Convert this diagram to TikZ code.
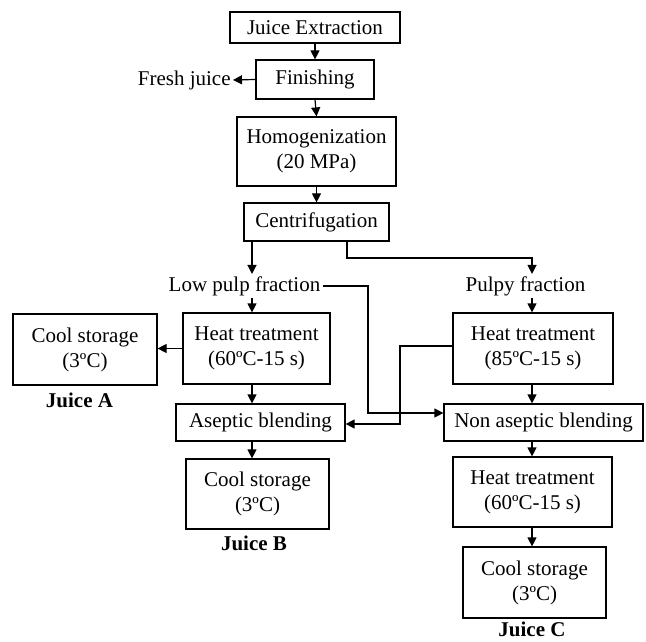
\documentclass[tikz,border=0pt]{standalone}
\usepackage{fontspec}
\setmainfont{Liberation Serif}
\usetikzlibrary{arrows.meta, calc}

\begin{document}
\begin{tikzpicture}[
  x=0.5pt, y=-0.5pt,
  every node/.style={font=\fontsize{10.5}{12.5}\selectfont},
  boxstep/.style={draw, line width=0.6pt, align=center, inner sep=0pt},
  tag/.style={font=\fontsize{10.5}{12.5}\selectfont\bfseries},
  arrow/.style={-{Triangle[length=4.5pt, width=4.5pt]}, line width=0.6pt},
]
\useasboundingbox (0,0) rectangle (646,641);

% Main line: extraction to centrifugation
\node[boxstep, minimum width=85pt, minimum height=15.5pt] (extract) at (315,27.5) {Juice Extraction};
\node[boxstep, minimum width=59pt, minimum height=19.5pt] (finish) at (315,79.5) {Finishing};
\node[anchor=east, inner sep=1pt] (fresh) at (233,80) {Fresh juice};
\node[boxstep, minimum width=79.5pt, minimum height=34.5pt] (homog) at (316.5,151.5) {Homogenization\\(20 MPa)};
\node[boxstep, minimum width=72.5pt, minimum height=19pt] (centri) at (316.5,222) {Centrifugation};

\draw[arrow] (extract.south) -- (finish.north);
\draw[arrow] (finish.west) -- (fresh.east);
\draw[arrow] (finish.south) -- (homog.north);
\draw[arrow] (homog.south) -- (centri.north);

% The two fractions
\coordinate (lp) at (252,0);
\coordinate (pp) at (532,0);
\coordinate (split) at (347,258);
\node[inner sep=1pt] (lowpulp) at (244.5,286) {Low pulp fraction};
\node[inner sep=1pt] (pulpy) at (525.5,286) {Pulpy fraction};

\draw[arrow] (centri.south -| lp) -- (lowpulp.north -| lp);
\draw[arrow] (centri.south -| split) -- (split) -| (pulpy.north -| pp);

% Low pulp branch
\node[boxstep, minimum width=73.5pt, minimum height=35.5pt] (heatL) at (256.5,348.5) {Heat treatment\\(60ºC-15 s)};
\node[boxstep, minimum width=72pt, minimum height=35.5pt] (coolA) at (85,349.5) {Cool storage\\(3ºC)};
\node[tag] (juiceA) at (79.5,400) {Juice A};
\node[boxstep, minimum width=84.5pt, minimum height=18.5pt] (asepL) at (260.5,422.5) {Aseptic blending};
\node[boxstep, minimum width=71.5pt, minimum height=35pt] (coolB) at (257.5,494) {Cool storage\\(3ºC)};
\node[tag] (juiceB) at (254,543) {Juice B};

\draw[arrow] (lowpulp.south -| lp) -- (heatL.north -| lp);
\draw[arrow] (heatL.west) -- (coolA.east |- heatL.west);
\draw[arrow] (heatL.south -| lp) -- (asepL.north -| lp);
\draw[arrow] (asepL.south -| lp) -- (coolB.north -| lp);

% Pulpy branch
\node[boxstep, minimum width=80pt, minimum height=35.5pt] (heatH) at (533,348.5) {Heat treatment\\(85ºC-15 s)};
\node[boxstep, minimum width=99.5pt, minimum height=18.5pt] (nonasep) at (543.5,422.5) {Non aseptic blending};
\node[boxstep, minimum width=79.5pt, minimum height=35pt] (heatN) at (532.5,492) {Heat treatment\\(60ºC-15 s)};
\node[boxstep, minimum width=71.5pt, minimum height=35.5pt] (coolC) at (534.5,582.5) {Cool storage\\(3ºC)};
\node[tag] (juiceC) at (532,629) {Juice C};

\draw[arrow] (pulpy.south -| pp) -- (heatH.north -| pp);
\draw[arrow] (heatH.south -| pp) -- (nonasep.north -| pp);
\draw[arrow] (nonasep.south -| pp) -- (heatN.north -| pp);
\draw[arrow] (heatN.south -| pp) -- (coolC.north -| pp);

% Cross links between the branches
\coordinate (lpx) at (368,413);
\coordinate (hx) at (400,424);
\draw[arrow] (lowpulp.east) -| (lpx) -- (nonasep.west |- lpx);
\draw[arrow] ([yshift=1.25pt]heatH.west) -| (hx) -- (asepL.east |- hx);

\end{tikzpicture}
\end{document}
